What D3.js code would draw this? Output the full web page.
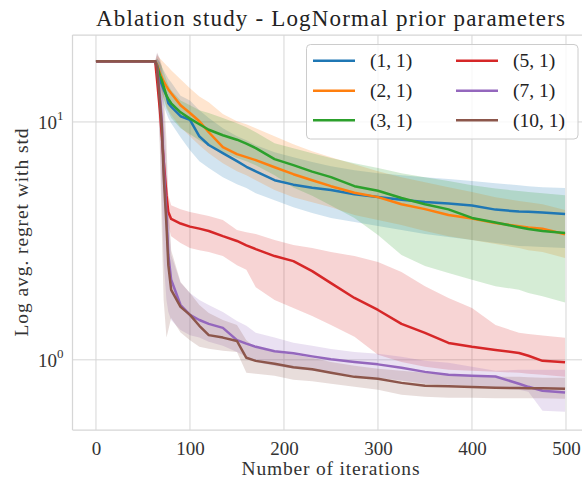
<!DOCTYPE html>
<html><head><meta charset="utf-8">
<script src="https://cdn.jsdelivr.net/npm/d3@7"></script>
<style>body{margin:0;background:#fff}</style>
</head><body>
<svg id="chart" width="582" height="485"></svg>
<script>
const iterations = [0,63,65,68,70,72,75,77,80,90,100,110,120,135,150,160,170,190,210,230,250,275,300,325,350,375,400,425,450,460,475,499];
const seriesNames = ["(1, 1)","(2, 1)","(3, 1)","(5, 1)","(7, 1)","(10, 1)"];
const seriesColors = ["#1f77b4","#ff7f0e","#2ca02c","#d62728","#9467bd","#8c564b"];

const mean_1_1 = [18.0,18.0,16.97,15.0,14.4,13.7,12.9,12.0,11.6,10.57,10.2,8.7,8.0,7.39,6.84,6.48,6.2,5.69,5.45,5.29,5.17,4.97,4.84,4.71,4.61,4.54,4.45,4.28,4.20,4.19,4.16,4.10];
const lo_1_1   = [18.0,18.0,16.5,13.6,12.6,11.75,10.88,10.4,9.88,8.62,7.61,6.84,6.40,5.86,5.47,5.27,5.02,4.69,4.38,4.14,3.95,3.80,3.65,3.51,3.38,3.28,3.19,3.10,3.01,3.0,2.98,2.95];
const hi_1_1   = [18.0,18.0,18.5,17.8,17.1,16.5,15.7,15.2,14.7,12.9,12.3,11.2,10.4,9.41,8.71,8.38,7.99,7.46,7.11,6.78,6.52,6.27,6.09,5.97,5.86,5.75,5.64,5.53,5.42,5.37,5.32,5.27];

const mean_2_1 = [18.0,18.0,17.46,16.0,15.4,14.8,14.1,13.7,13.2,11.75,10.9,10.07,9.05,7.83,7.32,7.11,6.91,6.45,6.03,5.69,5.37,5.04,4.83,4.51,4.30,4.06,3.93,3.76,3.64,3.60,3.56,3.37];
const lo_2_1   = [18.0,18.0,16.5,14.3,13.3,12.6,11.6,11.2,10.7,9.5,8.71,7.99,7.39,6.71,6.21,5.97,5.69,5.17,4.83,4.60,4.38,4.06,3.87,3.69,3.48,3.31,3.19,3.07,2.95,2.89,2.84,2.68];
const hi_2_1   = [18.0,18.0,19.05,18.5,18.15,17.8,17.3,17.0,16.5,15.1,13.85,12.8,12.1,10.8,10.07,9.78,9.41,8.71,8.06,7.53,7.11,6.64,6.21,5.86,5.58,5.32,5.07,4.83,4.65,4.60,4.51,4.26];

const mean_3_1 = [18.0,18.0,17.3,15.7,15.0,14.1,12.9,12.5,11.98,10.98,10.33,9.78,9.27,8.79,8.42,8.10,7.76,6.98,6.58,6.18,5.86,5.37,5.14,4.79,4.51,4.29,3.95,3.78,3.61,3.55,3.48,3.41];
const lo_3_1   = [18.0,18.0,17.1,14.7,13.6,12.6,11.4,11.0,10.4,9.41,8.88,8.38,7.92,7.47,7.05,6.84,6.58,5.97,5.3,4.9,4.45,3.95,3.35,2.76,2.48,2.32,2.17,2.04,1.97,1.91,1.85,1.74];
const hi_3_1   = [18.0,18.0,18.5,17.8,17.1,16.2,15.0,14.3,13.6,12.3,11.75,11.2,10.9,10.4,9.88,9.5,9.05,8.14,7.76,7.39,7.05,6.71,6.40,6.09,5.86,5.64,5.42,5.25,5.12,5.07,5.02,4.92];

const mean_5_1 = [18.0,18.0,15.0,11.2,8.79,6.91,4.92,4.18,3.91,3.74,3.63,3.56,3.48,3.31,3.16,3.03,2.92,2.73,2.60,2.36,2.10,1.82,1.62,1.416,1.298,1.178,1.134,1.10,1.069,1.04,0.99,0.976];
const lo_5_1   = [18.0,18.0,14.3,10.2,7.99,6.27,4.47,3.69,3.31,3.10,2.95,2.89,2.84,2.73,2.50,2.39,2.02,1.785,1.65,1.53,1.40,1.249,1.05,0.98,0.935,0.908,0.899,0.890,0.882,0.873,0.865,0.848];
const hi_5_1   = [18.0,18.0,16.5,12.9,10.2,7.99,5.69,4.92,4.47,4.30,4.18,4.10,4.02,3.87,3.51,3.44,3.38,3.19,3.04,2.95,2.84,2.73,2.58,2.34,2.04,1.82,1.65,1.40,1.30,1.285,1.265,1.237];

const mean_7_1 = [18.0,18.0,17.1,12.9,10.2,6.58,4.06,2.76,2.17,1.70,1.545,1.47,1.416,1.362,1.21,1.17,1.134,1.086,1.065,1.034,1.005,0.98,0.957,0.926,0.890,0.865,0.857,0.851,0.793,0.770,0.741,0.729];
const lo_7_1   = [18.0,18.0,16.2,8.38,4.69,2.63,1.785,1.59,1.47,1.336,1.27,1.24,1.19,1.145,1.08,1.03,0.98,0.944,0.917,0.899,0.882,0.857,0.840,0.818,0.793,0.785,0.778,0.763,0.748,0.735,0.611,0.605];
const hi_7_1   = [18.0,18.0,19.4,18.2,15.7,11.2,6.91,4.26,2.76,2.11,1.91,1.785,1.70,1.59,1.457,1.39,1.30,1.24,1.18,1.145,1.11,1.08,1.06,1.03,0.99,0.971,0.935,0.899,0.908,0.908,0.908,0.908];

const mean_10_1 = [18.0,18.0,16.97,12.3,9.69,5.97,3.69,2.50,1.97,1.67,1.545,1.39,1.27,1.24,1.20,1.02,0.99,0.962,0.930,0.912,0.882,0.848,0.832,0.80,0.778,0.774,0.768,0.763,0.761,0.76,0.760,0.756];
const lo_10_1   = [18.0,18.0,15.7,7.61,3.51,1.785,1.24,1.336,1.50,1.304,1.21,1.134,1.112,1.091,1.08,0.882,0.873,0.857,0.824,0.812,0.793,0.770,0.748,0.713,0.699,0.693,0.693,0.690,0.690,0.690,0.690,0.686];
const hi_10_1   = [18.0,18.0,19.6,18.5,17.3,13.6,8.38,4.69,2.89,2.125,1.91,1.70,1.574,1.47,1.40,1.21,1.123,1.08,1.05,1.02,0.98,0.944,0.917,0.899,0.882,0.865,0.857,0.848,0.848,0.845,0.840,0.840];

const xTicks = [0,100,200,300,400,500];
const yTicks = [1,10];
const titleText = "Ablation study - LogNormal prior parameters";
const xLabelText = "Number of iterations";
const yLabelText = "Log avg. regret with std";

const series = [
  {name: seriesNames[0], color: seriesColors[0], mean: mean_1_1, lo: lo_1_1, hi: hi_1_1},
  {name: seriesNames[1], color: seriesColors[1], mean: mean_2_1, lo: lo_2_1, hi: hi_2_1},
  {name: seriesNames[2], color: seriesColors[2], mean: mean_3_1, lo: lo_3_1, hi: hi_3_1},
  {name: seriesNames[3], color: seriesColors[3], mean: mean_5_1, lo: lo_5_1, hi: hi_5_1},
  {name: seriesNames[4], color: seriesColors[4], mean: mean_7_1, lo: lo_7_1, hi: hi_7_1},
  {name: seriesNames[5], color: seriesColors[5], mean: mean_10_1, lo: lo_10_1, hi: hi_10_1}
];

const W = 582, H = 485;
const plot = {left: 72.5, right: 588.5, top: 35, bottom: 430};
const FONT = "'Liberation Serif', 'Times New Roman', serif";
const GRID = "#d6d6d6";

const svg = d3.select("#chart");
const x = d3.scaleLinear().domain([-24.95, 523.95]).range([plot.left, plot.right]);
const y = d3.scaleLog().domain([0.507, 23.2]).range([plot.bottom, plot.top]);

const defs = svg.append("defs");
defs.append("clipPath").attr("id","clip").append("rect")
  .attr("x", plot.left).attr("y", plot.top)
  .attr("width", plot.right - plot.left).attr("height", plot.bottom - plot.top);

// grid
const grid = svg.append("g");
grid.selectAll("line.vx").data(xTicks).join("line")
  .attr("x1", d => x(d)).attr("x2", d => x(d))
  .attr("y1", plot.top).attr("y2", plot.bottom)
  .attr("stroke", GRID).attr("stroke-width", 1);
grid.selectAll("line.hy").data(yTicks).join("line")
  .attr("class","hy")
  .attr("x1", plot.left).attr("x2", plot.right)
  .attr("y1", d => y(d)).attr("y2", d => y(d))
  .attr("stroke", GRID).attr("stroke-width", 1);

// axes via d3 (no tick marks, styled like seaborn whitegrid)
const xAxis = d3.axisBottom(x).tickValues(xTicks).tickSize(0).tickPadding(12).tickFormat(d3.format("d"));
const gx = svg.append("g").attr("transform", `translate(0,${plot.bottom})`).call(xAxis);
gx.select(".domain").remove();
gx.selectAll("text").attr("font-family", FONT).attr("font-size", 19).attr("fill", "#333");

const yAxis = d3.axisLeft(y).tickValues(yTicks).tickSize(0).tickPadding(9).tickFormat(() => "");
const gy = svg.append("g").attr("transform", `translate(${plot.left},0)`).call(yAxis);
gy.select(".domain").remove();
gy.selectAll(".tick text").each(function(d) {
  const t = d3.select(this).attr("font-family", FONT).attr("font-size", 19).attr("fill", "#333").attr("dy", "0.35em");
  t.append("tspan").text("10");
  t.append("tspan").attr("font-size", 13).attr("dy", "-0.7em").text(String(Math.round(Math.log10(d))));
});

// bands and lines
const area = d3.area()
  .x((d, i) => x(iterations[i]))
  .y0(d => y(d[0])).y1(d => y(d[1]));
const line = d3.line().x((d, i) => x(iterations[i])).y(d => y(d));

const gData = svg.append("g").attr("clip-path", "url(#clip)");
series.forEach(s => {
  const pts = s.lo.map((v, i) => [v, s.hi[i]]);
  gData.append("path").attr("d", area(pts)).attr("fill", s.color).attr("fill-opacity", 0.2).attr("stroke", "none");
});
series.forEach(s => {
  gData.append("path").attr("d", line(s.mean)).attr("fill", "none")
    .attr("stroke", s.color).attr("stroke-width", 2.5).attr("stroke-linejoin", "round");
});

// spines
svg.append("line").attr("x1", plot.left).attr("x2", plot.left).attr("y1", plot.top).attr("y2", plot.bottom).attr("stroke", GRID).attr("stroke-width", 1.25);
svg.append("line").attr("x1", plot.left).attr("x2", plot.right).attr("y1", plot.bottom).attr("y2", plot.bottom).attr("stroke", GRID).attr("stroke-width", 1.25);
svg.append("line").attr("x1", plot.left).attr("x2", plot.right).attr("y1", plot.top).attr("y2", plot.top).attr("stroke", GRID).attr("stroke-width", 1.25);

// title and labels
svg.append("text").attr("x", (plot.left + plot.right) / 2).attr("y", 26)
  .attr("text-anchor", "middle").attr("font-family", FONT).attr("font-size", 23).attr("fill", "#222")
  .attr("textLength", 469).attr("lengthAdjust", "spacing").text(titleText);
svg.append("text").attr("x", (plot.left + plot.right) / 2).attr("y", 475)
  .attr("text-anchor", "middle").attr("font-family", FONT).attr("font-size", 19.5).attr("fill", "#333")
  .attr("textLength", 178).attr("lengthAdjust", "spacing").text(xLabelText);
svg.append("text").attr("transform", `translate(28,${(plot.top + plot.bottom) / 2}) rotate(-90)`)
  .attr("text-anchor", "middle").attr("font-family", FONT).attr("font-size", 19.5).attr("fill", "#333")
  .attr("textLength", 208).attr("lengthAdjust", "spacing").text(yLabelText);

// legend
const lg = svg.append("g");
lg.append("rect").attr("x", 306.5).attr("y", 44.5).attr("width", 271.5).attr("height", 94.5).attr("rx", 4)
  .attr("fill", "#fff").attr("fill-opacity", 0.8).attr("stroke", "#cccccc").attr("stroke-width", 1);
const cols = [313, 456];
const rows = [60.7, 90.7, 120.3];
series.forEach((s, i) => {
  const cx = cols[Math.floor(i / 3)], cy = rows[i % 3];
  lg.append("line").attr("x1", cx).attr("x2", cx + 42).attr("y1", cy).attr("y2", cy)
    .attr("stroke", s.color).attr("stroke-width", 2.5);
  lg.append("text").attr("x", cx + 57).attr("y", cy + 6.5).attr("font-family", FONT).attr("font-size", 19.5)
    .attr("fill", "#222").text(s.name);
});
</script>
</body></html>
